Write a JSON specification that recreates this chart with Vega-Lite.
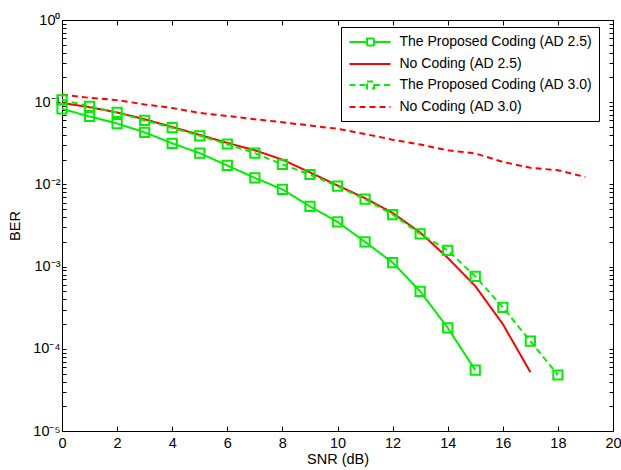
{
  "$schema": "https://vega.github.io/schema/vega-lite/v6.json",
  "width": 551,
  "height": 411,
  "autosize": {"type": "none"},
  "padding": {"left": 62, "top": 20, "right": 8, "bottom": 39},
  "background": "white",
  "config": {
    "font": "Liberation Sans",
    "view": {"stroke": "black", "strokeWidth": 1},
    "axis": {
      "grid": false,
      "domainColor": "black",
      "tickColor": "black",
      "labelColor": "black",
      "titleColor": "black",
      "labelFont": "Liberation Sans",
      "titleFont": "Liberation Sans",
      "labelFontSize": 14.5,
      "titleFontSize": 14.5,
      "titleFontWeight": "normal"
    }
  },
  "data": {
    "values": [
      {"snr": 0, "ber": 0.083, "series": "The Proposed Coding (AD 2.5)"},
      {"snr": 1, "ber": 0.067, "series": "The Proposed Coding (AD 2.5)"},
      {"snr": 2, "ber": 0.055, "series": "The Proposed Coding (AD 2.5)"},
      {"snr": 3, "ber": 0.043, "series": "The Proposed Coding (AD 2.5)"},
      {"snr": 4, "ber": 0.0316, "series": "The Proposed Coding (AD 2.5)"},
      {"snr": 5, "ber": 0.024, "series": "The Proposed Coding (AD 2.5)"},
      {"snr": 6, "ber": 0.017, "series": "The Proposed Coding (AD 2.5)"},
      {"snr": 7, "ber": 0.012, "series": "The Proposed Coding (AD 2.5)"},
      {"snr": 8, "ber": 0.0087, "series": "The Proposed Coding (AD 2.5)"},
      {"snr": 9, "ber": 0.0054, "series": "The Proposed Coding (AD 2.5)"},
      {"snr": 10, "ber": 0.0035, "series": "The Proposed Coding (AD 2.5)"},
      {"snr": 11, "ber": 0.002, "series": "The Proposed Coding (AD 2.5)"},
      {"snr": 12, "ber": 0.00112, "series": "The Proposed Coding (AD 2.5)"},
      {"snr": 13, "ber": 0.0005, "series": "The Proposed Coding (AD 2.5)"},
      {"snr": 14, "ber": 0.00018, "series": "The Proposed Coding (AD 2.5)"},
      {"snr": 15, "ber": 0.000055, "series": "The Proposed Coding (AD 2.5)"},
      {"snr": 0, "ber": 0.098, "series": "No Coding (AD 2.5)"},
      {"snr": 1, "ber": 0.087, "series": "No Coding (AD 2.5)"},
      {"snr": 2, "ber": 0.075, "series": "No Coding (AD 2.5)"},
      {"snr": 3, "ber": 0.062, "series": "No Coding (AD 2.5)"},
      {"snr": 4, "ber": 0.05, "series": "No Coding (AD 2.5)"},
      {"snr": 5, "ber": 0.04, "series": "No Coding (AD 2.5)"},
      {"snr": 6, "ber": 0.032, "series": "No Coding (AD 2.5)"},
      {"snr": 7, "ber": 0.026, "series": "No Coding (AD 2.5)"},
      {"snr": 8, "ber": 0.02, "series": "No Coding (AD 2.5)"},
      {"snr": 9, "ber": 0.014, "series": "No Coding (AD 2.5)"},
      {"snr": 10, "ber": 0.0097, "series": "No Coding (AD 2.5)"},
      {"snr": 11, "ber": 0.0068, "series": "No Coding (AD 2.5)"},
      {"snr": 12, "ber": 0.0045, "series": "No Coding (AD 2.5)"},
      {"snr": 13, "ber": 0.0026, "series": "No Coding (AD 2.5)"},
      {"snr": 14, "ber": 0.00128, "series": "No Coding (AD 2.5)"},
      {"snr": 15, "ber": 0.00058, "series": "No Coding (AD 2.5)"},
      {"snr": 16, "ber": 0.0002, "series": "No Coding (AD 2.5)"},
      {"snr": 17, "ber": 0.000052, "series": "No Coding (AD 2.5)"},
      {"snr": 0, "ber": 0.107, "series": "The Proposed Coding (AD 3.0)"},
      {"snr": 1, "ber": 0.089, "series": "The Proposed Coding (AD 3.0)"},
      {"snr": 2, "ber": 0.075, "series": "The Proposed Coding (AD 3.0)"},
      {"snr": 3, "ber": 0.06, "series": "The Proposed Coding (AD 3.0)"},
      {"snr": 4, "ber": 0.049, "series": "The Proposed Coding (AD 3.0)"},
      {"snr": 5, "ber": 0.039, "series": "The Proposed Coding (AD 3.0)"},
      {"snr": 6, "ber": 0.031, "series": "The Proposed Coding (AD 3.0)"},
      {"snr": 7, "ber": 0.024, "series": "The Proposed Coding (AD 3.0)"},
      {"snr": 8, "ber": 0.0175, "series": "The Proposed Coding (AD 3.0)"},
      {"snr": 9, "ber": 0.0132, "series": "The Proposed Coding (AD 3.0)"},
      {"snr": 10, "ber": 0.0095, "series": "The Proposed Coding (AD 3.0)"},
      {"snr": 11, "ber": 0.0066, "series": "The Proposed Coding (AD 3.0)"},
      {"snr": 12, "ber": 0.0043, "series": "The Proposed Coding (AD 3.0)"},
      {"snr": 13, "ber": 0.0025, "series": "The Proposed Coding (AD 3.0)"},
      {"snr": 14, "ber": 0.00158, "series": "The Proposed Coding (AD 3.0)"},
      {"snr": 15, "ber": 0.00076, "series": "The Proposed Coding (AD 3.0)"},
      {"snr": 16, "ber": 0.00032, "series": "The Proposed Coding (AD 3.0)"},
      {"snr": 17, "ber": 0.000124, "series": "The Proposed Coding (AD 3.0)"},
      {"snr": 18, "ber": 0.000048, "series": "The Proposed Coding (AD 3.0)"},
      {"snr": 0, "ber": 0.124, "series": "No Coding (AD 3.0)"},
      {"snr": 1, "ber": 0.113, "series": "No Coding (AD 3.0)"},
      {"snr": 2, "ber": 0.106, "series": "No Coding (AD 3.0)"},
      {"snr": 3, "ber": 0.094, "series": "No Coding (AD 3.0)"},
      {"snr": 4, "ber": 0.085, "series": "No Coding (AD 3.0)"},
      {"snr": 5, "ber": 0.074, "series": "No Coding (AD 3.0)"},
      {"snr": 6, "ber": 0.068, "series": "No Coding (AD 3.0)"},
      {"snr": 7, "ber": 0.062, "series": "No Coding (AD 3.0)"},
      {"snr": 8, "ber": 0.057, "series": "No Coding (AD 3.0)"},
      {"snr": 9, "ber": 0.052, "series": "No Coding (AD 3.0)"},
      {"snr": 10, "ber": 0.0475, "series": "No Coding (AD 3.0)"},
      {"snr": 11, "ber": 0.041, "series": "No Coding (AD 3.0)"},
      {"snr": 12, "ber": 0.035, "series": "No Coding (AD 3.0)"},
      {"snr": 13, "ber": 0.0306, "series": "No Coding (AD 3.0)"},
      {"snr": 14, "ber": 0.026, "series": "No Coding (AD 3.0)"},
      {"snr": 15, "ber": 0.0238, "series": "No Coding (AD 3.0)"},
      {"snr": 16, "ber": 0.0188, "series": "No Coding (AD 3.0)"},
      {"snr": 17, "ber": 0.0159, "series": "No Coding (AD 3.0)"},
      {"snr": 18, "ber": 0.0149, "series": "No Coding (AD 3.0)"},
      {"snr": 19, "ber": 0.0123, "series": "No Coding (AD 3.0)"}
    ]
  },
  "resolve": {"axis": {"x": "independent", "y": "independent"}},
  "layer": [
    {
      "mark": {"type": "line", "strokeWidth": 2, "clip": true},
      "encoding": {
        "x": {
          "field": "snr", "type": "quantitative",
          "scale": {"domain": [0, 20], "nice": false, "zero": false},
          "axis": {
            "title": "SNR (dB)",
            "orient": "bottom",
            "values": [0, 2, 4, 6, 8, 10, 12, 14, 16, 18, 20],
            "tickSize": -5,
            "labelPadding": 10,
            "titlePadding": 3,
            "labelFlush": false
          }
        },
        "y": {
          "field": "ber", "type": "quantitative",
          "scale": {"type": "log", "domain": [0.00001, 1], "nice": false},
          "axis": {
            "title": "BER",
            "orient": "left",
            "values": [0.00001, 0.00002, 0.00003, 0.00004, 0.00005, 0.00006, 0.00007, 0.00008, 0.00009, 0.0001, 0.0002, 0.0003, 0.0004, 0.0005, 0.0006, 0.0007, 0.0008, 0.0009, 0.001, 0.002, 0.003, 0.004, 0.005, 0.006, 0.007, 0.008, 0.009, 0.01, 0.02, 0.03, 0.04, 0.05, 0.06, 0.07, 0.08, 0.09, 0.1, 0.2, 0.3, 0.4, 0.5, 0.6, 0.7, 0.8, 0.9, 1],
            "labelExpr": "abs(log(datum.value)/LN10 - round(log(datum.value)/LN10)) < 0.000001 ? '10' + ['⁰','⁻¹','⁻²','⁻³','⁻⁴','⁻⁵'][abs(round(log(datum.value)/LN10))] : ''",
            "tickSize": -4,
            "labelPadding": 6,
            "titlePadding": 10,
            "labelFlush": false,
            "labelOverlap": false
          }
        },
        "color": {
          "field": "series", "type": "nominal",
          "scale": {
            "domain": ["The Proposed Coding (AD 2.5)", "No Coding (AD 2.5)", "The Proposed Coding (AD 3.0)", "No Coding (AD 3.0)"],
            "range": ["#00ee00", "#ff0000", "#00ee00", "#ff0000"]
          },
          "legend": {
            "title": null,
            "orient": "none",
            "legendX": 279,
            "legendY": 7,
            "strokeColor": "black",
            "fillColor": "white",
            "padding": 7,
            "labelFont": "Liberation Sans",
            "labelFontSize": 14,
            "labelColor": "black",
            "labelLimit": 0,
            "labelOffset": 35.5,
            "rowPadding": 6,
            "symbolSize": 196,
            "symbolStrokeWidth": 2,
            "encode": {
              "symbols": {
                "update": {
                  "shape": {"signal": "indexof(datum.value, 'Proposed') >= 0 ? 'M-0.93,0H1.57M2.57,0H4.93M1.57,-0.5H2.57V0.5H1.57Z' : 'M-0.93,0H4.93'"},
                  "fill": {"value": "transparent"}
                }
              }
            }
          }
        },
        "strokeDash": {
          "field": "series", "type": "nominal",
          "scale": {
            "domain": ["The Proposed Coding (AD 2.5)", "No Coding (AD 2.5)", "The Proposed Coding (AD 3.0)", "No Coding (AD 3.0)"],
            "range": [[1, 0], [1, 0], [6, 4], [6, 4]]
          },
          "legend": {"title": null}
        }
      }
    },
    {
      "transform": [{"filter": "indexof(datum.series, 'Proposed') >= 0"}],
      "mark": {"type": "point", "shape": "square", "filled": false, "size": 85, "strokeWidth": 2, "opacity": 1},
      "encoding": {
        "x": {
          "field": "snr", "type": "quantitative",
          "axis": {
            "title": null,
            "orient": "top",
            "values": [0, 2, 4, 6, 8, 10, 12, 14, 16, 18, 20],
            "labels": false,
            "tickSize": -5
          }
        },
        "y": {
          "field": "ber", "type": "quantitative",
          "axis": {
            "title": null,
            "orient": "right",
            "values": [0.00001, 0.00002, 0.00003, 0.00004, 0.00005, 0.00006, 0.00007, 0.00008, 0.00009, 0.0001, 0.0002, 0.0003, 0.0004, 0.0005, 0.0006, 0.0007, 0.0008, 0.0009, 0.001, 0.002, 0.003, 0.004, 0.005, 0.006, 0.007, 0.008, 0.009, 0.01, 0.02, 0.03, 0.04, 0.05, 0.06, 0.07, 0.08, 0.09, 0.1, 0.2, 0.3, 0.4, 0.5, 0.6, 0.7, 0.8, 0.9, 1],
            "labels": false,
            "tickSize": -4
          }
        },
        "color": {"field": "series", "type": "nominal", "legend": null}
      }
    }
  ]
}
